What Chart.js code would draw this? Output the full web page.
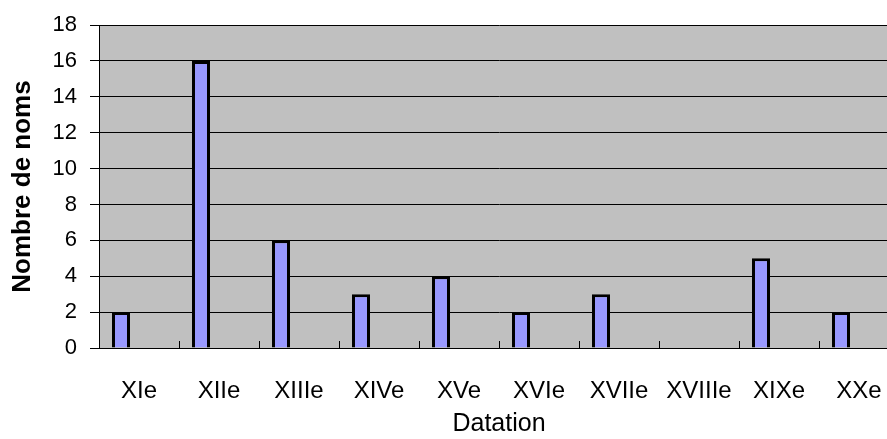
<!DOCTYPE html>
<html>
<head>
<meta charset="utf-8">
<script src="https://cdn.jsdelivr.net/npm/chart.js@4"></script>
<style>
  html, body { margin: 0; padding: 0; background: #fff; overflow: hidden; }
  #wrap { width: 910px; height: 439px; }
</style>
</head>
<body>
<div id="wrap"><canvas id="myChart"></canvas></div>
<script>
const siecles = ["XIe", "XIIe", "XIIIe", "XIVe", "XVe", "XVIe", "XVIIe", "XVIIIe", "XIXe", "XXe"];
const nombreNoms = [2, 16, 6, 3, 4, 2, 3, 0, 5, 2];
const serieVide = [null, null, null, null, null, null, null, null, null, null];

Chart.defaults.font.family = "'Liberation Sans', Arial, sans-serif";
Chart.defaults.color = "#000";

// gray plot background
const fondGris = {
  id: "fondGris",
  beforeDraw(chart) {
    const { ctx, chartArea } = chart;
    ctx.save();
    ctx.fillStyle = "#c0c0c0";
    ctx.fillRect(chartArea.left, chartArea.top, chartArea.right - chartArea.left, chartArea.bottom - chartArea.top);
    ctx.restore();
  },
  // small inside ticks between categories
  afterDatasetsDraw(chart) {
    const { ctx, chartArea } = chart;
    const x = chart.scales.x;
    ctx.save();
    ctx.strokeStyle = "#000";
    ctx.lineWidth = 1;
    for (let i = 1; i <= siecles.length; i++) {
      const px = Math.round((x.getPixelForValue(i - 1) + x.getPixelForValue(i)) / 2) + 0.5;
      ctx.beginPath();
      ctx.moveTo(px, chartArea.bottom);
      ctx.lineTo(px, chartArea.bottom - 7);
      ctx.stroke();
    }
    ctx.restore();
  },
};

const ctx = document.getElementById("myChart").getContext("2d");
const myChart = new Chart(ctx, {
  type: "bar",
  data: {
    labels: siecles,
    datasets: [
      {
        data: nombreNoms,
        backgroundColor: "#9999ff",
        borderColor: "#000",
        borderWidth: 3,
        categoryPercentage: 0.9,
        barPercentage: 0.5,
      },
      {
        data: serieVide,
        categoryPercentage: 0.9,
        barPercentage: 0.5,
      },
    ],
  },
  plugins: [fondGris],
  options: {
    responsive: true,
    maintainAspectRatio: false,
    animation: false,
    layout: { padding: { top: 25, right: 11, left: 0, bottom: 0 } },
    plugins: {
      legend: { display: false },
      tooltip: { enabled: false },
    },
    scales: {
      x: {
        afterFit: (s) => { s.height = 91; s.paddingLeft = 0; s.paddingRight = 0; },
        grid: { display: false },
        border: { color: "#000", width: 1 },
        ticks: { font: { size: 24 }, padding: 21, maxRotation: 0, autoSkip: false },
        title: { display: true, text: "Datation", font: { size: 25 }, padding: { top: 4, bottom: 0 } },
      },
      y: {
        min: 0,
        max: 18,
        afterFit: (s) => { s.width = 99; s.paddingTop = 0; s.paddingBottom = 0; },
        ticks: { stepSize: 2, font: { size: 22 }, padding: 13 },
        grid: { color: "#000", lineWidth: 1, tickLength: 9, tickColor: "#000" },
        border: { color: "#000", width: 1 },
        title: { display: true, text: "Nombre de noms", font: { size: 26, weight: "bold" }, padding: { top: 7, bottom: 0 } },
      },
    },
  },
});
</script>
</body>
</html>
